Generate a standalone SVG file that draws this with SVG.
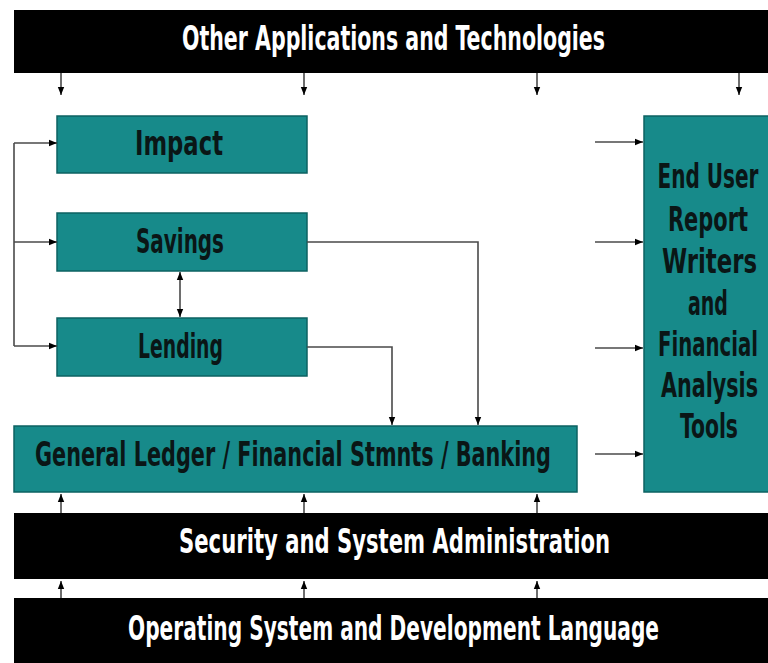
<svg xmlns="http://www.w3.org/2000/svg" width="768" height="663" viewBox="0 0 768 663">
  <style>
    .bar { fill: #000000; }
    .box { fill: #178a8a; stroke: #0d6262; stroke-width: 1.5; }
    .wt { fill: #ffffff; font-family: "Liberation Sans Narrow", "DejaVu Sans Condensed", "Liberation Sans", sans-serif; font-weight: bold; font-size: 33px; text-anchor: middle; }
    .dt { fill: #0a1616; font-family: "Liberation Sans Narrow", "DejaVu Sans Condensed", "Liberation Sans", sans-serif; font-weight: bold; font-size: 33px; text-anchor: middle; }
    .ln { fill: none; stroke: #4a4a4a; stroke-width: 1.6; }
  </style>
  <defs>
    <marker id="ah" viewBox="0 0 10 10" refX="10" refY="5" markerWidth="8" markerHeight="8" orient="auto-start-reverse" markerUnits="userSpaceOnUse">
      <path d="M0,1 L10,5 L0,9 z" fill="#000000"/>
    </marker>
  </defs>
  <rect x="0" y="0" width="768" height="663" fill="#ffffff"/>

  <g id="other-apps">
    <rect class="bar" x="14" y="10" width="754" height="63"/>
    <text class="wt" x="393.5" y="50" textLength="423" lengthAdjust="spacingAndGlyphs">Other Applications and Technologies</text>
  </g>

  <g id="impact">
    <rect class="box" x="57" y="116" width="250" height="57"/>
    <text class="dt" x="179" y="155" textLength="88" lengthAdjust="spacingAndGlyphs">Impact</text>
  </g>

  <g id="savings">
    <rect class="box" x="57" y="213" width="250" height="58"/>
    <text class="dt" x="180" y="253" textLength="88" lengthAdjust="spacingAndGlyphs">Savings</text>
  </g>

  <g id="lending">
    <rect class="box" x="57" y="318" width="250" height="58"/>
    <text class="dt" x="180.5" y="358" textLength="85" lengthAdjust="spacingAndGlyphs">Lending</text>
  </g>

  <g id="general-ledger">
    <rect class="box" x="14" y="426" width="563" height="66"/>
    <text class="dt" x="293" y="466" textLength="516" lengthAdjust="spacingAndGlyphs">General Ledger / Financial Stmnts / Banking</text>
  </g>

  <g id="end-user">
    <rect class="box" x="644" y="116" width="130" height="376"/>
    <text class="dt" x="708" y="188" textLength="101" lengthAdjust="spacingAndGlyphs">End User</text>
    <text class="dt" x="708" y="231" textLength="80" lengthAdjust="spacingAndGlyphs">Report</text>
    <text class="dt" x="709.5" y="273" textLength="95" lengthAdjust="spacingAndGlyphs">Writers</text>
    <text class="dt" x="708" y="315" textLength="40" lengthAdjust="spacingAndGlyphs">and</text>
    <text class="dt" x="708" y="356" textLength="100" lengthAdjust="spacingAndGlyphs">Financial</text>
    <text class="dt" x="709.5" y="397" textLength="97" lengthAdjust="spacingAndGlyphs">Analysis</text>
    <text class="dt" x="709" y="438" textLength="58" lengthAdjust="spacingAndGlyphs">Tools</text>
  </g>

  <g id="security">
    <rect class="bar" x="14" y="513" width="754" height="66"/>
    <text class="wt" x="394.5" y="553" textLength="431" lengthAdjust="spacingAndGlyphs">Security and System Administration</text>
  </g>

  <g id="operating-system">
    <rect class="bar" x="14" y="598" width="754" height="65"/>
    <text class="wt" x="393.5" y="640" textLength="531" lengthAdjust="spacingAndGlyphs">Operating System and Development Language</text>
  </g>

  <g id="connectors">
    <!-- top bar down arrows -->
    <line class="ln" x1="61" y1="73" x2="61" y2="95" marker-end="url(#ah)"/>
    <line class="ln" x1="304" y1="73" x2="304" y2="95" marker-end="url(#ah)"/>
    <line class="ln" x1="537" y1="73" x2="537" y2="95" marker-end="url(#ah)"/>
    <line class="ln" x1="739" y1="73" x2="739" y2="95" marker-end="url(#ah)"/>
    <!-- left bus -->
    <path class="ln" d="M14,143 V346"/>
    <line class="ln" x1="14" y1="143" x2="57" y2="143" marker-end="url(#ah)"/>
    <line class="ln" x1="14" y1="242" x2="57" y2="242" marker-end="url(#ah)"/>
    <line class="ln" x1="14" y1="346" x2="57" y2="346" marker-end="url(#ah)"/>
    <!-- savings <-> lending -->
    <line class="ln" x1="180" y1="272" x2="180" y2="317" marker-start="url(#ah)" marker-end="url(#ah)"/>
    <!-- savings / lending to GL -->
    <path class="ln" d="M307,242 H478 V425" marker-end="url(#ah)"/>
    <path class="ln" d="M307,347 H392 V425" marker-end="url(#ah)"/>
    <!-- into End User -->
    <line class="ln" x1="595" y1="142" x2="643" y2="142" marker-end="url(#ah)"/>
    <line class="ln" x1="595" y1="242" x2="643" y2="242" marker-end="url(#ah)"/>
    <line class="ln" x1="595" y1="348" x2="643" y2="348" marker-end="url(#ah)"/>
    <line class="ln" x1="595" y1="454" x2="643" y2="454" marker-end="url(#ah)"/>
    <!-- security up to GL -->
    <line class="ln" x1="61" y1="513" x2="61" y2="494" marker-end="url(#ah)"/>
    <line class="ln" x1="304" y1="513" x2="304" y2="494" marker-end="url(#ah)"/>
    <line class="ln" x1="537" y1="513" x2="537" y2="494" marker-end="url(#ah)"/>
    <!-- OS up to security -->
    <line class="ln" x1="61" y1="598" x2="61" y2="581" marker-end="url(#ah)"/>
    <line class="ln" x1="304" y1="598" x2="304" y2="581" marker-end="url(#ah)"/>
    <line class="ln" x1="537" y1="598" x2="537" y2="581" marker-end="url(#ah)"/>
  </g>
</svg>
